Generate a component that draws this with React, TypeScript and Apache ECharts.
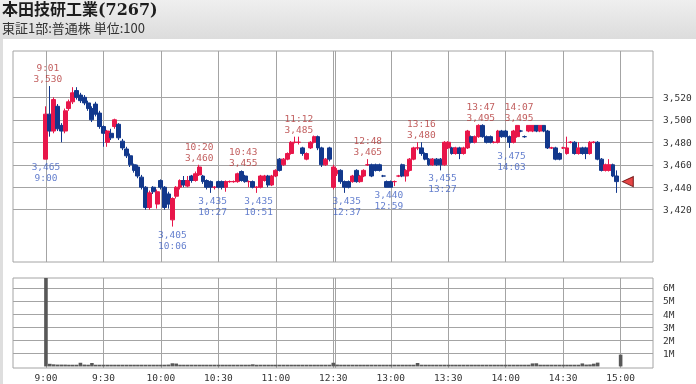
import React, { useEffect, useRef } from 'react';
import * as echarts from 'echarts';

const TITLE = '本田技研工業(7267)';
const SUBTITLE = '東証1部:普通株 単位:100';

const TIME_TICK_LABELS = ['9:00', '9:30', '10:00', '10:30', '11:00', '12:30', '13:00', '13:30', '14:00', '14:30', '15:00'];
const PRICE_TICKS = [3420, 3440, 3460, 3480, 3500, 3520];
const VOLUME_TICKS = [1000000, 2000000, 3000000, 4000000, 5000000, 6000000];
const VOLUME_TICK_LABELS = ['1M', '2M', '3M', '4M', '5M', '6M'];

// 2-minute bars, [open, close, low, high]; morning 9:00-11:28
const MORNING_BARS: number[][] = [
  [3465, 3505, 3465, 3512], [3505, 3490, 3485, 3530], [3490, 3518, 3488, 3520], [3512, 3492, 3490, 3514],
  [3495, 3490, 3480, 3497], [3490, 3508, 3488, 3510], [3510, 3516, 3508, 3518], [3516, 3524, 3514, 3529],
  [3526, 3520, 3518, 3529], [3522, 3517, 3515, 3524], [3520, 3515, 3513, 3522], [3515, 3510, 3508, 3517],
  [3510, 3500, 3498, 3512], [3514, 3505, 3503, 3516], [3506, 3494, 3492, 3508], [3494, 3488, 3476, 3495],
  [3480, 3490, 3476, 3491], [3488, 3484, 3482, 3492], [3494, 3500, 3492, 3501], [3496, 3484, 3482, 3497],
  [3481, 3475, 3473, 3483], [3474, 3468, 3466, 3476], [3468, 3460, 3458, 3470], [3460, 3455, 3453, 3461],
  [3458, 3450, 3448, 3460], [3449, 3440, 3438, 3451], [3440, 3422, 3420, 3441], [3422, 3435, 3420, 3437],
  [3440, 3436, 3434, 3441], [3425, 3436, 3421, 3438], [3446, 3440, 3438, 3447], [3440, 3422, 3420, 3441],
  [3434, 3425, 3421, 3436], [3411, 3430, 3405, 3431], [3432, 3440, 3430, 3441], [3440, 3446, 3438, 3447],
  [3446, 3442, 3440, 3450], [3441, 3446, 3440, 3450], [3450, 3446, 3444, 3451], [3446, 3452, 3445, 3454],
  [3451, 3458, 3450, 3460], [3450, 3445, 3443, 3451], [3446, 3440, 3438, 3447], [3445, 3440, 3435, 3446],
  [3440, 3440, 3438, 3441], [3445, 3440, 3439, 3446], [3445, 3440, 3438, 3446], [3440, 3445, 3436, 3446],
  [3445, 3445, 3444, 3446], [3445, 3445, 3444, 3446], [3445, 3452, 3444, 3453], [3454, 3446, 3445, 3455],
  [3450, 3445, 3444, 3451], [3445, 3445, 3440, 3446], [3445, 3440, 3439, 3446], [3440, 3440, 3435, 3441],
  [3440, 3450, 3439, 3451], [3446, 3450, 3445, 3451], [3450, 3442, 3440, 3451], [3442, 3450, 3441, 3451],
  [3450, 3455, 3449, 3456], [3465, 3455, 3454, 3466], [3460, 3465, 3459, 3466], [3465, 3470, 3464, 3471],
  [3470, 3480, 3469, 3481], [3480, 3480, 3479, 3485], [3480, 3480, 3478, 3485], [3475, 3470, 3468, 3476],
  [3465, 3470, 3464, 3471], [3475, 3480, 3474, 3481], [3480, 3485, 3479, 3486], [3485, 3475, 3473, 3486],
  [3475, 3460, 3458, 3476], [3460, 3465, 3459, 3466], [3475, 3465, 3463, 3476],
];

// 2-minute bars, [open, close, low, high]; afternoon 12:30-14:58
const AFTERNOON_BARS: number[][] = [
  [3440, 3458, 3438, 3460], [3452, 3455, 3450, 3457], [3455, 3445, 3443, 3456], [3445, 3440, 3435, 3446],
  [3445, 3440, 3439, 3446], [3445, 3450, 3444, 3451], [3455, 3445, 3444, 3456], [3445, 3450, 3444, 3451],
  [3450, 3455, 3449, 3456], [3460, 3460, 3459, 3465], [3460, 3450, 3449, 3461], [3460, 3455, 3454, 3461],
  [3460, 3455, 3454, 3461], [3450, 3450, 3449, 3451], [3445, 3440, 3440, 3446], [3445, 3440, 3440, 3446],
  [3445, 3445, 3441, 3446], [3450, 3450, 3449, 3451], [3460, 3450, 3449, 3461], [3450, 3455, 3445, 3456],
  [3455, 3465, 3454, 3466], [3465, 3475, 3464, 3476], [3475, 3475, 3473, 3480], [3475, 3470, 3468, 3480],
  [3470, 3465, 3464, 3471], [3465, 3460, 3459, 3466], [3460, 3465, 3459, 3466], [3465, 3460, 3459, 3466],
  [3465, 3460, 3455, 3466], [3460, 3480, 3459, 3481], [3475, 3480, 3474, 3481], [3475, 3470, 3469, 3476],
  [3470, 3475, 3469, 3476], [3475, 3470, 3465, 3476], [3470, 3475, 3469, 3476], [3475, 3490, 3474, 3491],
  [3485, 3480, 3479, 3486], [3480, 3485, 3479, 3486], [3485, 3495, 3484, 3496], [3495, 3485, 3484, 3496],
  [3485, 3480, 3479, 3486], [3485, 3480, 3479, 3486], [3480, 3480, 3479, 3481], [3480, 3490, 3479, 3491],
  [3490, 3485, 3484, 3491], [3490, 3485, 3484, 3491], [3485, 3480, 3475, 3486], [3480, 3490, 3479, 3491],
  [3485, 3495, 3484, 3495], [3490, 3490, 3489, 3491], [3485, 3485, 3484, 3486], [3490, 3495, 3489, 3495],
  [3490, 3495, 3489, 3495], [3495, 3490, 3489, 3495], [3490, 3495, 3489, 3495], [3495, 3490, 3489, 3495],
  [3490, 3475, 3474, 3491], [3475, 3475, 3474, 3476], [3475, 3465, 3464, 3476], [3470, 3465, 3464, 3471],
  [3475, 3475, 3474, 3476], [3470, 3475, 3469, 3485], [3480, 3480, 3479, 3481], [3480, 3470, 3469, 3481],
  [3470, 3475, 3469, 3480], [3475, 3470, 3469, 3476], [3475, 3470, 3465, 3476], [3470, 3480, 3469, 3481],
  [3480, 3480, 3479, 3481], [3480, 3465, 3464, 3481], [3465, 3455, 3454, 3466], [3455, 3460, 3454, 3461],
  [3455, 3460, 3454, 3465], [3460, 3450, 3449, 3461], [3450, 3445, 3435, 3455],
];

// volume per 2-minute bar, thousands of shares (morning then afternoon)
const VOLUME_K: number[] = [
  7200, 200, 160, 140, 140, 140, 130, 130, 130, 280, 140, 130, 260, 130, 130, 130, 130, 130, 130, 130,
  130, 130, 130, 130, 130, 130, 130, 130, 130, 130, 130, 130, 140, 240, 220, 130, 130, 130, 130, 130,
  130, 130, 130, 130, 130, 130, 130, 130, 130, 130, 130, 130, 130, 130, 160, 130, 130, 130, 130, 130,
  130, 130, 130, 130, 130, 130, 130, 130, 130, 130, 130, 130, 130, 130, 130,
  280, 140, 130, 130, 130, 130, 130, 130, 130, 130, 130, 130, 130, 130, 130, 130, 130, 130, 130, 130,
  130, 130, 260, 130, 130, 130, 130, 130, 130, 130, 130, 130, 130, 130, 130, 130, 130, 130, 130, 130,
  130, 130, 130, 130, 130, 130, 130, 130, 130, 130, 130, 130, 230, 240, 130, 130, 130, 130, 130, 130,
  130, 130, 130, 130, 130, 230, 140, 150, 210, 290,
];
const CLOSING_VOLUME_K = 900;

const HIGH_NOTES: [string, number][] = [
  ['9:01', 3530], ['10:20', 3460], ['10:43', 3455], ['11:12', 3485],
  ['12:48', 3465], ['13:16', 3480], ['13:47', 3495], ['14:07', 3495],
];
const LOW_NOTES: [string, number][] = [
  ['9:00', 3465], ['10:06', 3405], ['10:27', 3435], ['10:51', 3435],
  ['12:37', 3435], ['12:59', 3440], ['13:27', 3455], ['14:03', 3475],
];
const LAST_PRICE = 3445;

const BAR_MINUTES = 2;
const LUNCH_LINE_GAP = 1;

const UP = '#e8164a';
const DOWN = '#12388c';
const GRID_C = '#a4a4a4';
const RED_TXT = '#b23434';
const BLUE_TXT = '#3d5fc2';
const MONO = "'DejaVu Sans Mono', monospace";
const JP = "'DejaVu Serif', 'Noto Sans CJK JP', sans-serif";

// session minutes since 9:00 with the lunch break removed
function toMinute(t: string): number {
  const [h, m] = t.split(':').map(Number);
  const raw = h * 60 + m - 540;
  return raw >= 210 ? raw - 60 : raw;
}
function fmtPrice(v: number): string {
  return String(v).replace(/\B(?=(\d{3})+(?!\d))/g, ',');
}

export default function App() {
  const ref = useRef<HTMLDivElement>(null);
  useEffect(() => {
    if (!ref.current) return;
    const chart = echarts.init(ref.current, undefined, { renderer: 'svg' });

    const amStart = toMinute('9:00');
    const pmStart = toMinute('12:30');
    const candleData: number[][] = [];
    MORNING_BARS.forEach((b, i) => candleData.push([amStart + i * BAR_MINUTES, ...b]));
    AFTERNOON_BARS.forEach((b, i) => candleData.push([pmStart + i * BAR_MINUTES, ...b]));
    const volData: number[][] = candleData.map((c, i) => [c[0], VOLUME_K[i] * 1000]);
    volData.push([toMinute('15:00'), CLOSING_VOLUME_K * 1000]);
    const lastMinute = candleData[candleData.length - 1][0];

    const tickMinutes = TIME_TICK_LABELS.map(toMinute);
    const vLines = [...tickMinutes, pmStart + LUNCH_LINE_GAP];
    const X_MIN = -17.2, X_MAX = 316.9;

    const xCommon = (gi: number, showLabels: boolean) => ({
      type: 'value', gridIndex: gi, min: X_MIN, max: X_MAX,
      axisLine: { show: false },
      axisTick: { show: false, customValues: vLines },
      axisLabel: {
        show: showLabels, customValues: tickMinutes, margin: 4,
        formatter: (v: number) => TIME_TICK_LABELS[tickMinutes.indexOf(v)] ?? '',
        color: '#333', fontSize: 9.5, fontFamily: MONO,
      },
      splitLine: { show: true, lineStyle: { color: GRID_C, width: 1 } },
    });

    const option: any = {
      animation: false,
      backgroundColor: 'transparent',
      graphic: [
        { type: 'rect', z: -100, shape: { x: 0, y: 0, width: 696, height: 384 }, style: { fill: '#dedede' } },
        {
          type: 'rect', z: -100, shape: { x: 0, y: 0, width: 696, height: 39 },
          style: { fill: new echarts.graphic.LinearGradient(0, 0, 0, 1, [{ offset: 0, color: '#efefef' }, { offset: 1, color: '#dcdcdc' }]) },
        },
        { type: 'rect', z: -100, shape: { x: 3, y: 39, width: 693, height: 345 }, style: { fill: '#ffffff' } },
      ],
      title: [
        { text: TITLE, left: 2, top: 0, padding: 0, textStyle: { fontSize: 16, fontWeight: 'bold', color: '#1e1e1e', fontFamily: JP, lineHeight: 18 } },
        { text: SUBTITLE, left: 2, top: 19, padding: 0, textStyle: { fontSize: 13, fontWeight: 'normal', color: '#333', fontFamily: "'Noto Sans CJK JP', sans-serif", lineHeight: 16 } },
      ],
      grid: [
        { left: 13, top: 51, width: 640, height: 211, show: true, borderColor: GRID_C, borderWidth: 1, backgroundColor: '#fff', outerBoundsMode: 'none' },
        { left: 13, top: 278, width: 640, height: 90, show: true, borderColor: GRID_C, borderWidth: 1, backgroundColor: '#fff', outerBoundsMode: 'none' },
      ],
      xAxis: [xCommon(0, false), xCommon(1, true)],
      yAxis: [
        {
          type: 'value', gridIndex: 0, position: 'right', min: 3373.5, max: 3561.2,
          axisLine: { show: false },
          axisTick: { show: true, customValues: PRICE_TICKS, length: 8, lineStyle: { color: GRID_C } },
          axisLabel: { customValues: PRICE_TICKS, margin: 10, formatter: (v: number) => fmtPrice(v), color: '#333', fontSize: 9.5, fontFamily: MONO },
          splitLine: { show: true, lineStyle: { color: GRID_C, width: 1 } },
        },
        {
          type: 'value', gridIndex: 1, position: 'right', min: -120000, max: 6750000,
          axisLine: { show: false },
          axisTick: { show: true, customValues: VOLUME_TICKS, length: 8, lineStyle: { color: GRID_C } },
          axisLabel: {
            customValues: VOLUME_TICKS, margin: 10,
            formatter: (v: number) => VOLUME_TICK_LABELS[VOLUME_TICKS.indexOf(v)] ?? '',
            color: '#333', fontSize: 9.5, fontFamily: MONO,
          },
          splitLine: { show: true, lineStyle: { color: GRID_C, width: 1 } },
        },
      ],
      series: [
        {
          type: 'candlestick', xAxisIndex: 0, yAxisIndex: 0,
          data: candleData, encode: { x: 0, y: [1, 2, 3, 4] },
          barWidth: 4.4,
          itemStyle: { color: UP, color0: DOWN, borderColor: UP, borderColor0: DOWN, borderWidth: 1 },
        },
        {
          type: 'scatter', xAxisIndex: 0, yAxisIndex: 0, symbolSize: 0, silent: true, clip: false,
          data: HIGH_NOTES.map(([t, p]) => [toMinute(t), p, t]),
          label: {
            show: true, position: 'top', distance: 2, color: RED_TXT, fontSize: 9.5, fontFamily: MONO, lineHeight: 11,
            formatter: (p: any) => `${p.value[2]}\n${fmtPrice(p.value[1])}`,
          },
        },
        {
          type: 'scatter', xAxisIndex: 0, yAxisIndex: 0, symbolSize: 0, silent: true, clip: false,
          data: LOW_NOTES.map(([t, p]) => [toMinute(t), p, t]),
          label: {
            show: true, position: 'bottom', distance: 2, color: BLUE_TXT, fontSize: 9.5, fontFamily: MONO, lineHeight: 11,
            formatter: (p: any) => `${fmtPrice(p.value[1])}\n${p.value[2]}`,
          },
        },
        {
          type: 'scatter', xAxisIndex: 0, yAxisIndex: 0, silent: true, clip: false,
          data: [[lastMinute, LAST_PRICE]],
          symbol: 'triangle', symbolSize: [10, 11], symbolRotate: 90, symbolOffset: [11, 0],
          itemStyle: { color: '#e01818', borderColor: '#5a0000', borderWidth: 1 },
          z: 5,
        },
        {
          type: 'bar', xAxisIndex: 1, yAxisIndex: 1, data: volData, barWidth: 3.6,
          itemStyle: { color: '#585858' },
        },
      ],
    };
    chart.setOption(option);
    return () => chart.dispose();
  }, []);
  return <div ref={ref} style={{ position: 'fixed', left: 0, top: 0, width: 696, height: 384 }} />;
}
